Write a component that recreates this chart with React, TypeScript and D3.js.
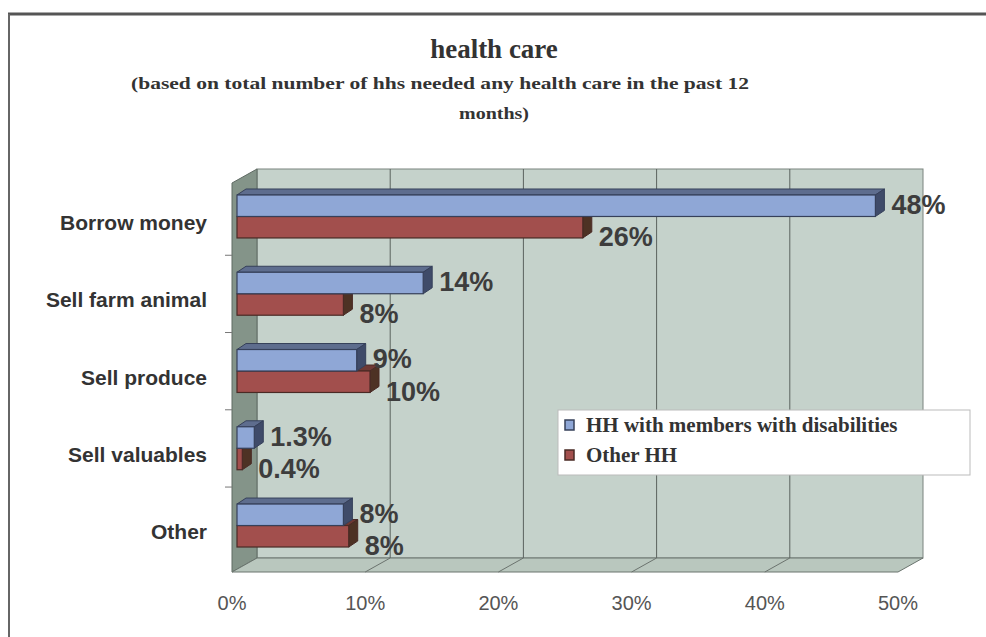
import React from "react";
import * as d3 from "d3";

const categories = ["Borrow money", "Sell farm animal", "Sell produce", "Sell valuables", "Other"];
const seriesNames = ["HH with members with disabilities", "Other HH"];
const disabledValues = [0.48, 0.14, 0.09, 0.013, 0.08];
const otherValues = [0.26, 0.08, 0.1, 0.004, 0.084];
const disabledLabels = ["48%", "14%", "9%", "1.3%", "8%"];
const otherLabels = ["26%", "8%", "10%", "0.4%", "8%"];
const xTicks = [0, 0.1, 0.2, 0.3, 0.4, 0.5];

const W = 986;
const H = 637;

const DEPTH = { dx: 25, dy: -14 };
const BAR_D = { dx: 9, dy: -6 };
const FLOOR_Y = 572;
const WALL_TOP = 169;

const BLUE = { front: "#8fa7d6", top: "#5e6d8e", side: "#3f4b69", stroke: "#36405a" };
const RED = { front: "#a24f4d", top: "#6e3934", side: "#4d3224", stroke: "#4a2a25" };

export default function App() {
  const xFront = d3.scaleLinear().domain([0, 0.5]).range([232, 898]);
  const xBack = (v: number) => xFront(v) + DEPTH.dx;
  const xBar = d3.scaleLinear().domain([0, 0.5]).range([237, 902]);
  const y = d3.scaleBand<string>().domain(categories).range([178, 564]).paddingInner(0.444).paddingOuter(0.22);
  const bh = y.bandwidth() / 2;
  const pct = d3.format(".0%");

  const backBottom = FLOOR_Y + DEPTH.dy;
  const pts = (p: number[][]) => p.map((q) => q.join(",")).join(" ");

  const bar = (v: number, yy: number, c: typeof BLUE, key: string) => {
    const x0 = xBar(0);
    const x1 = xBar(v);
    const { dx, dy } = BAR_D;
    return (
      <g key={key}>
        <polygon points={pts([[x0, yy], [x1, yy], [x1 + dx, yy + dy], [x0 + dx, yy + dy]])} fill={c.top} stroke={c.stroke} strokeWidth={1} />
        <polygon points={pts([[x1, yy], [x1 + dx, yy + dy], [x1 + dx, yy + bh + dy], [x1, yy + bh]])} fill={c.side} stroke={c.stroke} strokeWidth={1} />
        <rect x={x0} y={yy} width={x1 - x0} height={bh} fill={c.front} stroke={c.stroke} strokeWidth={1.2} />
      </g>
    );
  };

  return (
    <svg width={W} height={H} style={{ position: "absolute", left: 0, top: 0, background: "#fff" }}>
      {/* frame */}
      <line x1={8} y1={14} x2={W} y2={14} stroke="#555" strokeWidth={3} />
      <line x1={9} y1={14} x2={9} y2={H} stroke="#666" strokeWidth={2} />

      {/* titles */}
      <text x={494} y={58} textAnchor="middle" fontFamily="Liberation Serif" fontWeight="bold" fontSize={27} fill="#333">health care</text>
      <text x={440} y={89} textAnchor="middle" fontFamily="Liberation Serif" fontWeight="bold" fontSize={17} fill="#333" textLength={618} lengthAdjust="spacingAndGlyphs">(based on total number of hhs needed any health care in the past 12</text>
      <text x={494} y={119} textAnchor="middle" fontFamily="Liberation Serif" fontWeight="bold" fontSize={17} fill="#333" textLength={70} lengthAdjust="spacingAndGlyphs">months)</text>

      {/* back wall */}
      <rect x={xBack(0)} y={WALL_TOP} width={xBack(0.5) - xBack(0)} height={backBottom - WALL_TOP} fill="#c5d2cb" stroke="#7a847e" strokeWidth={1} />
      {/* left wall */}
      <polygon points={pts([[xFront(0), WALL_TOP - DEPTH.dy], [xBack(0), WALL_TOP], [xBack(0), backBottom], [xFront(0), FLOOR_Y]])} fill="#849489" stroke="#5f6a63" strokeWidth={1} />
      {/* floor */}
      <polygon points={pts([[xFront(0), FLOOR_Y], [xFront(0.5), FLOOR_Y], [xBack(0.5), backBottom], [xBack(0), backBottom]])} fill="#b9c7be" stroke="#6a746e" strokeWidth={1} />

      {/* gridlines */}
      {xTicks.slice(1, -1).map((t) => (
        <g key={"g" + t}>
          <line x1={xBack(t)} y1={WALL_TOP} x2={xBack(t)} y2={backBottom} stroke="#5b635e" strokeWidth={1} />
          <line x1={xBack(t)} y1={backBottom} x2={xFront(t)} y2={FLOOR_Y} stroke="#6b736e" strokeWidth={1} />
        </g>
      ))}

      {/* category ticks on the left */}
      {categories.slice(1).map((c, i) => {
        const yy = (y(c) as number) - y.step() * 0.22;
        return <line key={"ct" + i} x1={225} x2={xFront(0)} y1={yy} y2={yy} stroke="#777" strokeWidth={1} />;
      })}

      {/* bars */}
      {categories.map((c, i) => {
        const y0 = y(c) as number;
        return (
          <g key={c}>
            {bar(otherValues[i], y0 + bh, RED, "r")}
            {bar(disabledValues[i], y0, BLUE, "b")}
          </g>
        );
      })}

      {/* value labels */}
      {categories.map((c, i) => {
        const y0 = y(c) as number;
        return (
          <g key={"l" + c} fontFamily="Liberation Sans, Arial" fontWeight="bold" fontSize={27} fill="#3d3d3d">
            <text x={xBar(disabledValues[i]) + BAR_D.dx + 7} y={y0 + bh / 2 - 1} dominantBaseline="central">{disabledLabels[i]}</text>
            <text x={xBar(otherValues[i]) + BAR_D.dx + 7} y={y0 + bh * 1.5 + 10} dominantBaseline="central">{otherLabels[i]}</text>
          </g>
        );
      })}

      {/* category labels */}
      {categories.map((c) => (
        <text key={"c" + c} x={207} y={(y(c) as number) + bh + 6} textAnchor="end" dominantBaseline="central" fontFamily="Liberation Sans, Arial" fontWeight="bold" fontSize={21} fill="#333">{c}</text>
      ))}

      {/* x axis tick labels */}
      {xTicks.map((t) => (
        <text key={"x" + t} x={xFront(t)} y={603} textAnchor="middle" dominantBaseline="central" fontFamily="Liberation Sans, Arial" fontSize={20} fill="#555">{pct(t)}</text>
      ))}

      {/* legend */}
      <g>
        <rect x={558} y={410} width={412} height={65} fill="#fff" stroke="#bbb" strokeWidth={1} />
        {seriesNames.map((s, i) => {
          const c = i === 0 ? BLUE : RED;
          const yy = 425 + i * 30;
          return (
            <g key={s}>
              <rect x={565} y={yy - 5} width={9} height={10} fill={c.front} stroke={c.stroke} strokeWidth={1.5} />
              <text x={586} y={yy} dominantBaseline="central" fontFamily="Liberation Serif" fontWeight="bold" fontSize={21} fill="#333">{s}</text>
            </g>
          );
        })}
      </g>
    </svg>
  );
}
